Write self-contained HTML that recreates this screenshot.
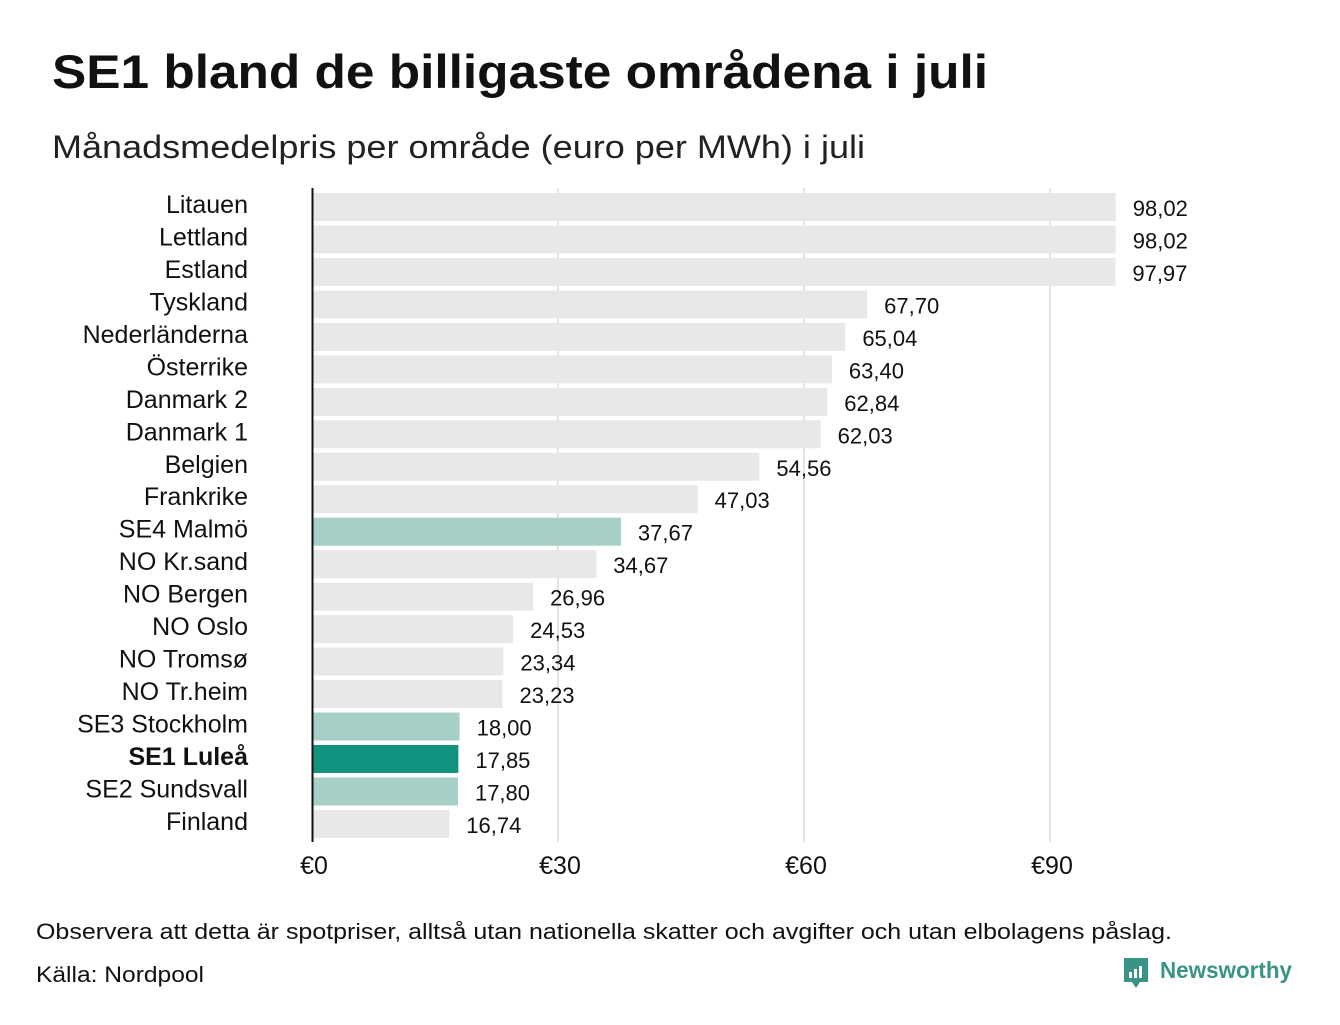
<!DOCTYPE html>
<html><head><meta charset="utf-8"><style>
body{margin:0;background:#fff;font-family:"Liberation Sans","DejaVu Sans",sans-serif;}
</style></head><body>
<svg width="1340" height="1020" xmlns="http://www.w3.org/2000/svg" id="chart">
<text x="52" y="88" font-size="47" font-weight="bold" fill="#111" textLength="936" lengthAdjust="spacingAndGlyphs">SE1 bland de billigaste områdena i juli</text>
<text x="52" y="158" font-size="32" fill="#222" textLength="813" lengthAdjust="spacingAndGlyphs">Månadsmedelpris per område (euro per MWh) i juli</text>
<g id="grid"></g><g id="bars"></g><g id="labels"></g><g id="xticks"></g>
<line x1="312.5" y1="188" x2="312.5" y2="842" stroke="#111" stroke-width="2"/>
<text x="36" y="939" font-size="22" fill="#111" textLength="1136" lengthAdjust="spacingAndGlyphs">Observera att detta är spotpriser, alltså utan nationella skatter och avgifter och utan elbolagens påslag.</text>
<text x="36" y="982" font-size="22" fill="#111" textLength="168" lengthAdjust="spacingAndGlyphs">Källa: Nordpool</text>
<g>
<path d="M1124 958 h24 v24 h-8 l-4 6 l-4 -6 h-8 z" fill="#3a9485"/>
<rect x="1129" y="972" width="3" height="6" fill="#fff"/><rect x="1134" y="969" width="3" height="9" fill="#fff"/><rect x="1139" y="966" width="3" height="12" fill="#fff"/>
<text x="1160" y="978" font-size="23" font-weight="bold" fill="#3a9485" textLength="132" lengthAdjust="spacingAndGlyphs">Newsworthy</text>
</g>
<script>
const categories=["Litauen","Lettland","Estland","Tyskland","Nederländerna","Österrike","Danmark  2","Danmark  1","Belgien","Frankrike","SE4  Malmö","NO Kr.sand","NO Bergen","NO Oslo","NO Tromsø","NO Tr.heim","SE3  Stockholm","SE1 Luleå","SE2  Sundsvall","Finland"];
const values=[98.02,98.02,97.97,67.70,65.04,63.40,62.84,62.03,54.56,47.03,37.67,34.67,26.96,24.53,23.34,23.23,18.00,17.85,17.80,16.74];
const highlight=["","","","","","","","","","","light","","","","","","light","dark","light",""];
const ticks=[0,30,60,90];
const tickLabels=["€0","€30","€60","€90"];
const NS="http://www.w3.org/2000/svg";
const x=v=>312+v*8.2;
const yTop=i=>193+i*32.47;
const bh=28;
function mk(t,a,p){const e=document.createElementNS(NS,t);for(const k in a)e.setAttribute(k,a[k]);p.appendChild(e);return e;}
const grid=document.getElementById('grid'),bars=document.getElementById('bars'),labels=document.getElementById('labels'),xt=document.getElementById('xticks');
ticks.forEach((t,i)=>{
 if(t>0){const l=mk('line',{x1:x(t),x2:x(t),y1:188,y2:842,stroke:'#c8c8d0','stroke-width':1},grid);
 
 }
 const tx=mk('text',{x:x(t)+2,y:874,'font-size':25,'text-anchor':'middle',fill:'#111'},xt);tx.textContent=tickLabels[i];
 
 
});
categories.forEach((c,i)=>{
 const col=highlight[i]==='dark'?'#12937f':highlight[i]==='light'?'#a6cfc8':'#e8e8e8';
 const r=mk('rect',{x:313,y:yTop(i),width:x(values[i])-313,height:bh,fill:col},bars);
 
 
 const lab=mk('text',{x:248,y:yTop(i)+20,'font-size':25,'text-anchor':'end',fill:'#111','xml:space':'preserve'},labels);
 if(highlight[i]==='dark'){lab.setAttribute('font-weight','bold');}
 lab.textContent=c;
 
 
 const v=mk('text',{x:x(values[i])+17,y:yTop(i)+23,'font-size':22,fill:'#111'},labels);
 v.textContent=values[i].toFixed(2).replace('.',',');
 
 
});
</script>
</svg>
</body></html>
